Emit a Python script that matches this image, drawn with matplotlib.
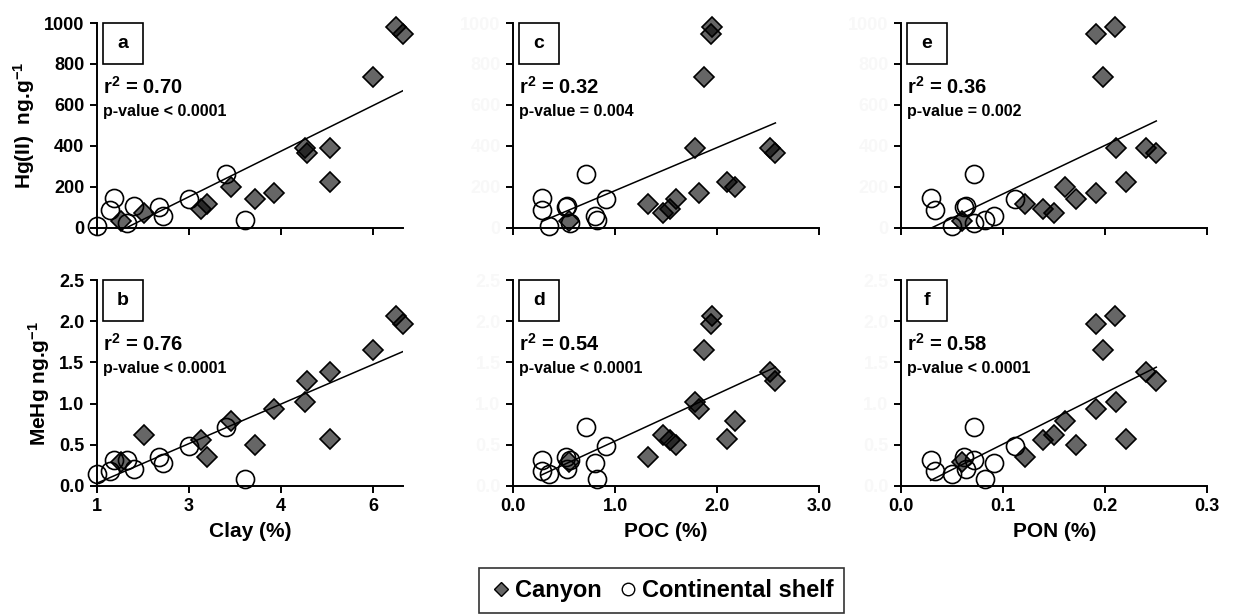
import numpy as np
import matplotlib.pyplot as plt
from matplotlib.patches import Rectangle
from matplotlib.lines import Line2D

plt.rcParams['font.family'] = ['Liberation Sans', 'DejaVu Sans']
plt.rcParams['font.weight'] = 'bold'
plt.rcParams['mathtext.fontset'] = 'custom'
plt.rcParams['mathtext.rm'] = 'Liberation Sans:bold'
plt.rcParams['mathtext.bf'] = 'Liberation Sans:bold'
plt.rcParams['mathtext.default'] = 'bf'

# canyon stations
canyon_clay = np.array([6.50, 6.66, 6.00, 4.52, 5.06, 4.56, 5.06, 3.92, 3.46, 3.72, 3.20, 2.02, 3.13, 1.52])
canyon_poc = np.array([1.95, 1.94, 1.87, 1.78, 2.52, 2.57, 2.10, 1.82, 2.17, 1.60, 1.32, 1.47, 1.54, 0.55])
canyon_pon = np.array([0.210, 0.191, 0.198, 0.211, 0.240, 0.250, 0.220, 0.191, 0.161, 0.171, 0.121, 0.150, 0.139, 0.060])
canyon_hg = np.array([980, 948, 735, 389, 388, 366, 223, 171, 198, 140, 118, 75, 95, 33])
canyon_mehg = np.array([2.06, 1.96, 1.65, 1.02, 1.38, 1.28, 0.57, 0.94, 0.79, 0.50, 0.35, 0.62, 0.56, 0.29])

# continental shelf stations
shelf_clay = np.array([1.00, 1.28, 1.38, 1.66, 1.80, 2.34, 2.44, 3.00, 3.40, 3.61])
shelf_poc = np.array([0.35, 0.28, 0.28, 0.56, 0.53, 0.52, 0.80, 0.91, 0.71, 0.82])
shelf_pon = np.array([0.050, 0.033, 0.029, 0.071, 0.064, 0.062, 0.091, 0.112, 0.071, 0.082])
shelf_hg = np.array([12, 90, 148, 25, 106, 102, 60, 139, 263, 38])
shelf_mehg = np.array([0.15, 0.18, 0.32, 0.32, 0.21, 0.35, 0.28, 0.48, 0.72, 0.08])

panel_letters = ['a', 'b', 'c', 'd', 'e', 'f']
r2_text = ['0.70', '0.76', '0.32', '0.54', '0.36', '0.58']
p_text = ['p-value < 0.0001', 'p-value < 0.0001', 'p-value = 0.004',
          'p-value < 0.0001', 'p-value = 0.002', 'p-value < 0.0001']

# clay axis is drawn with unevenly spaced labels
clay_ref = [-1, 1, 3, 4, 6, 8]
clay_pos = [-1, 0, 1, 2, 3, 4]


def clay_fwd(x):
    return np.interp(x, clay_ref, clay_pos)


def clay_inv(u):
    return np.interp(u, clay_pos, clay_ref)


fig = plt.figure(figsize=(12.35, 6.15), dpi=100)

lefts = [0.0785, 0.4154, 0.7296]
width = 0.248
rows = [(0.6293, 0.3333), (0.2098, 0.3349)]

xs_canyon = [canyon_clay, canyon_poc, canyon_pon]
xs_shelf = [shelf_clay, shelf_poc, shelf_pon]
ys_canyon = [canyon_hg, canyon_mehg]
ys_shelf = [shelf_hg, shelf_mehg]
xlabels = ['Clay (%)', 'POC (%)', 'PON (%)']
ylabels = [r'Hg(II)  ng.g$^{-1}$', r'MeHg ng.g$^{-1}$']

k = 0
for col in range(3):
    for row in range(2):
        bottom, height = rows[row]
        ax = fig.add_axes([lefts[col], bottom, width, height])
        xc, xsh = xs_canyon[col], xs_shelf[col]
        yc, ysh = ys_canyon[row], ys_shelf[row]

        if col == 0:
            ax.set_xscale('function', functions=(clay_fwd, clay_inv))

        ax.plot(xsh, ysh, 'o', ms=13, mfc='none', mec='black', mew=1.2,
                clip_on=False, zorder=2)
        ax.plot(xc, yc, 'D', ms=10, mfc=(0, 0, 0, 0.6), mec='black', mew=1.2,
                clip_on=False, zorder=3)

        # linear trend over all stations
        xall = np.concatenate([xc, xsh])
        yall = np.concatenate([yc, ysh])
        uall = clay_fwd(xall) if col == 0 else xall
        slope, icpt = np.polyfit(uall, yall, 1)
        xe = np.array([xall.min(), xall.max()])
        ue = clay_fwd(xe) if col == 0 else xe
        ax.plot(xe, icpt + slope * ue, color='black', lw=1.1, zorder=4)

        if col == 0:
            ax.set_xlim(1, 6.66)
            ax.set_xticks([1, 3, 4, 6])
            ax.set_xticklabels(['1', '3', '4', '6'])
        elif col == 1:
            ax.set_xlim(0, 3.0)
            ax.set_xticks([0, 1, 2, 3])
            ax.set_xticklabels(['0.0', '1.0', '2.0', '3.0'])
        else:
            ax.set_xlim(0, 0.3)
            ax.set_xticks([0, 0.1, 0.2, 0.3])
            ax.set_xticklabels(['0.0', '0.1', '0.2', '0.3'])
        ax.minorticks_off()

        if row == 0:
            ax.set_ylim(0, 1000)
            ax.set_yticks(range(0, 1001, 200))
            ax.set_xticklabels([])
        else:
            ax.set_ylim(0, 2.5)
            ax.set_yticks(np.arange(0, 2.51, 0.5))
            ax.set_yticklabels(['%.1f' % v for v in np.arange(0, 2.51, 0.5)])
            ax.set_xlabel(xlabels[col], fontsize=15, fontweight='bold', labelpad=5)

        for s in ['top', 'right']:
            ax.spines[s].set_visible(False)
        for s in ['left', 'bottom']:
            ax.spines[s].set_linewidth(1.4)
        ax.tick_params(direction='out', length=5, width=1.4, labelsize=13, pad=4)

        if col == 0:
            ax.set_ylabel(ylabels[row], fontsize=15, fontweight='bold', labelpad=5)
        else:
            for t in ax.get_yticklabels():
                t.set_color('#f8f8f8')

        ax.add_patch(Rectangle((0.02, 0.80), 0.13, 0.20, transform=ax.transAxes,
                               facecolor='white', edgecolor='black', lw=1.2,
                               clip_on=False, zorder=5))
        ax.text(0.085, 0.90, panel_letters[k], transform=ax.transAxes,
                ha='center', va='center', fontsize=14, fontweight='bold', zorder=6)
        ax.text(0.02, 0.69, r'r$^2$ = ' + r2_text[k], transform=ax.transAxes,
                ha='left', va='center', fontsize=14.5, fontweight='bold')
        ax.text(0.02, 0.57, p_text[k], transform=ax.transAxes,
                ha='left', va='center', fontsize=11.5, fontweight='bold')
        k += 1

handles = [
    Line2D([], [], marker='D', ls='none', ms=7, mfc=(0, 0, 0, 0.6), mec='black', mew=1.0),
    Line2D([], [], marker='o', ls='none', ms=9, mfc='none', mec='black', mew=1.0),
]
leg = fig.legend(handles, ['Canyon', 'Continental shelf'], loc='center',
                 bbox_to_anchor=(0.5356, 0.040), ncol=2, frameon=True,
                 fancybox=False, edgecolor='black',
                 handletextpad=0.1, columnspacing=0.6, handlelength=1.0,
                 borderpad=0.45, prop={'weight': 'bold', 'size': 17})
leg.get_frame().set_linewidth(1.2)

fig.savefig('out.png', dpi=100)
